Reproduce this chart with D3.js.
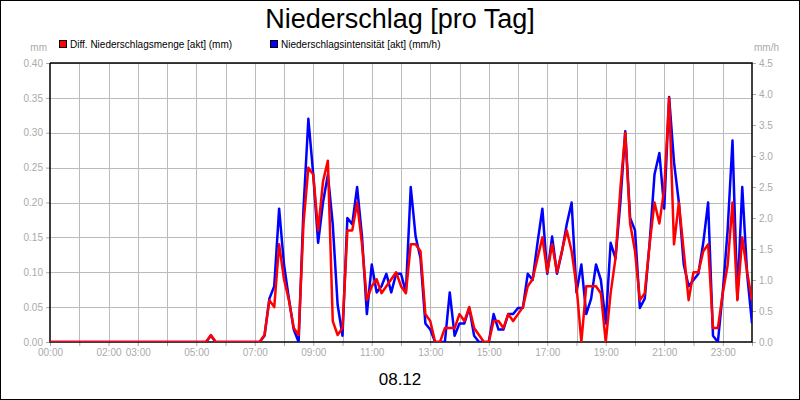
<!DOCTYPE html>
<html><head><meta charset="utf-8">
<script src="https://cdn.jsdelivr.net/npm/d3@7"></script>
<style>body{margin:0;background:#fff}svg{display:block;font-family:"Liberation Sans",Arial,sans-serif}</style>
</head><body><svg id="c" width="800" height="400"></svg>
<script>
// 10-minute steps from 00:00 to 24:00
const zeros = n => Array(n).fill(0);
const menge = [].concat(
  zeros(30),
  [0,0,0,0.01,0,0], zeros(6),
  [0,0,0.01,0.06,0.05,0.14],
  [0.09,0.06,0.02,0.01,0.17,0.25],
  [0.24,0.16,0.23,0.26,0.03,0.01],
  [0.02,0.16,0.16,0.2,0.14,0.06],
  [0.08,0.09,0.07,0.08,0.09,0.1],
  [0.08,0.07,0.14,0.14,0.13,0.04],
  [0.03,0,0,0.02,0.02,0.02],
  [0.04,0.03,0.05,0.02,0.01,0],
  [0,0.03,0.03,0.02,0.04,0.03],
  [0.04,0.05,0.08,0.09,0.12,0.15],
  [0.1,0.14,0.1,0.13,0.16,0.13],
  [0.08,0,0.08,0.08,0.08,0.07],
  [0,0.07,0.12,0.22,0.3,0.17],
  [0.13,0.06,0.07,0.14,0.2,0.17],
  [0.22,0.35,0.14,0.2,0.13,0.06],
  [0.1,0.1,0.13,0.14,0.02,0.02],
  [0.07,0.11,0.2,0.06,0.15,0.1],
  [0.06]
);
const intensitaet = [].concat(
  zeros(30),
  [0,0,0,0.1,0,0], zeros(6),
  [0,0,0.1,0.7,0.9,2.15],
  [1.25,0.7,0.2,0,2.15,3.6],
  [2.7,1.6,2.25,2.7,1.9,0.6],
  [0.1,2.0,1.9,2.5,1.7,0.45],
  [1.25,0.8,0.9,1.1,0.8,1.1],
  [1.1,0.8,2.5,1.7,1.35,0.3],
  [0.2,0,0,0,0.8,0.1],
  [0.3,0.3,0.55,0.1,0,0],
  [0,0.45,0.2,0.2,0.45,0.45],
  [0.55,0.55,1.1,1.0,1.6,2.15],
  [1.1,1.7,1.1,1.45,1.9,2.25],
  [0.8,1.25,0.45,0.7,1.25,1.0],
  [0.3,1.6,1.35,2.25,3.4,2.0],
  [1.8,0.55,0.7,1.6,2.7,3.05],
  [2.15,3.95,2.9,2.25,1.25,0.9],
  [1.0,1.1,1.6,2.25,0.1,0],
  [0.8,1.8,3.25,0.7,2.5,1.1],
  [0.3]
);
const hourLabels = [0,2,3,5,7,9,11,13,15,17,19,21,23];
const leftTicks = d3.range(0, 0.4001, 0.05);
const rightTicks = d3.range(0, 4.5001, 0.5);

const svg = d3.select("#c");
const L = 50, R = 752, T = 63, B = 342;
const x = d3.scaleLinear().domain([0, 24]).range([L, R]);
const yL = d3.scaleLinear().domain([0, 0.4]).range([B, T]);
const yR = d3.scaleLinear().domain([0, 4.5]).range([B, T]);
const gray = "#aaa";

svg.append("rect").attr("x",0.5).attr("y",0.5).attr("width",799).attr("height",399)
  .attr("fill","#fff").attr("stroke","#000");

svg.append("text").attr("x",400).attr("y",28).attr("text-anchor","middle")
  .attr("font-size",27).text("Niederschlag [pro Tag]");
svg.append("text").attr("x",400).attr("y",385).attr("text-anchor","middle")
  .attr("font-size",17).text("08.12");

// legend
[["#f00","Diff. Niederschlagsmenge [akt] (mm)",59],["#00f","Niederschlagsintensität [akt] (mm/h)",270]]
  .forEach(([c,t,lx]) => {
    svg.append("rect").attr("x",lx+0.5).attr("y",40.5).attr("width",7).attr("height",7)
      .attr("fill",c).attr("stroke","#000");
    svg.append("text").attr("x",lx+11).attr("y",48).attr("font-size",10).text(t);
  });
svg.append("text").attr("x",47).attr("y",51).attr("text-anchor","end").attr("font-size",10).attr("fill",gray).text("mm");
svg.append("text").attr("x",754).attr("y",51).attr("font-size",10).attr("fill",gray).text("mm/h");

// grid
const grid = svg.append("g").attr("stroke","#bbb").attr("stroke-width",1);
d3.range(1,24).forEach(h => grid.append("line").attr("x1",Math.round(x(h))+0.5).attr("x2",Math.round(x(h))+0.5).attr("y1",T).attr("y2",B));
leftTicks.slice(1).forEach(v => grid.append("line").attr("x1",L).attr("x2",R).attr("y1",Math.round(yL(v))+0.5).attr("y2",Math.round(yL(v))+0.5));

// axes
const axL = svg.append("g").attr("transform",`translate(${L},0)`)
  .call(d3.axisLeft(yL).tickValues(leftTicks).tickFormat(d3.format(".2f")).tickSize(4));
const axR = svg.append("g").attr("transform",`translate(${R},0)`)
  .call(d3.axisRight(yR).tickValues(rightTicks).tickFormat(d3.format(".1f")).tickSize(4));
const axB = svg.append("g").attr("transform",`translate(0,${B})`)
  .call(d3.axisBottom(x).tickValues(d3.range(0,25)).tickFormat(h => hourLabels.includes(h) ? String(h).padStart(2,"0")+":00" : "").tickSize(4));
[axL,axR,axB].forEach(a => {
  a.select(".domain").remove();
  a.selectAll("line").attr("stroke",gray);
  a.selectAll("text").attr("fill",gray).attr("font-size",10).style("font-family","inherit");
});
svg.append("path").attr("d",`M${L},${T}V${B}H${R}V${T}H${L}`).attr("fill","none").attr("stroke","#000").attr("stroke-width",1.5);

const clip = svg.append("clipPath").attr("id","pc").append("rect").attr("x",L).attr("y",T-5).attr("width",R-L).attr("height",B-T+5);
const lineR = d3.line().x((d,i) => x(i/6)).y(d => yL(d));
const lineB = d3.line().x((d,i) => x(i/6)).y(d => yR(d));
const g = svg.append("g").attr("clip-path","url(#pc)");
g.append("path").attr("d",lineB(intensitaet)).attr("fill","none").attr("stroke","#00f").attr("stroke-width",2.5).attr("stroke-linejoin","round");
g.append("path").attr("d",lineR(menge)).attr("fill","none").attr("stroke","#f00").attr("stroke-width",2.5).attr("stroke-linejoin","round");
</script></body></html>
